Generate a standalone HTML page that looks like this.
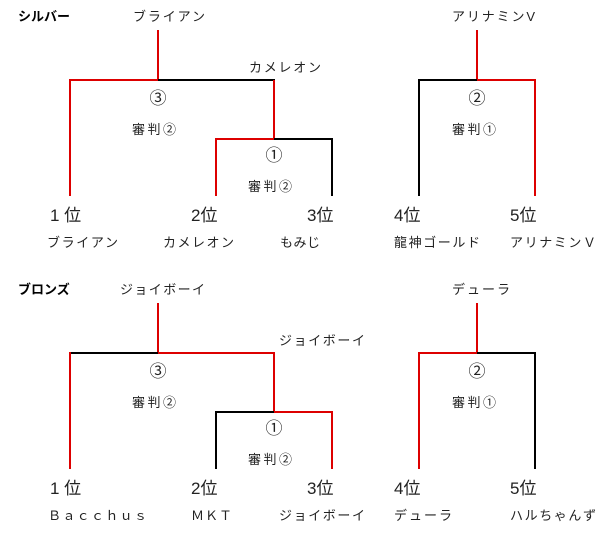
<!DOCTYPE html>
<html><head><meta charset="utf-8"><style>
html,body{margin:0;padding:0;background:#fff;width:616px;height:539px;overflow:hidden}
svg text{font-family:"Liberation Sans","Noto Sans CJK JP",sans-serif;fill:#222}
.s{font-size:13px}.r{font-size:17px}.b{font-size:13px;font-weight:bold;fill:#000}
</style></head><body>
<svg width="616" height="539" viewBox="0 0 616 539" xmlns="http://www.w3.org/2000/svg">
<g stroke-width="2" fill="none">
<!-- silver -->
<line x1="158" y1="30" x2="158" y2="81" stroke="#d00"/>
<line x1="70" y1="80" x2="158" y2="80" stroke="#d00"/>
<line x1="158" y1="80" x2="275" y2="80" stroke="#000"/>
<line x1="70" y1="79" x2="70" y2="196" stroke="#d00"/>
<line x1="274" y1="80" x2="274" y2="140" stroke="#d00"/>
<line x1="216" y1="139" x2="274" y2="139" stroke="#d00"/>
<line x1="274" y1="139" x2="333" y2="139" stroke="#000"/>
<line x1="216" y1="138" x2="216" y2="196" stroke="#d00"/>
<line x1="332" y1="138" x2="332" y2="196" stroke="#000"/>
<line x1="477" y1="30" x2="477" y2="81" stroke="#d00"/>
<line x1="418" y1="80" x2="477" y2="80" stroke="#000"/>
<line x1="477" y1="80" x2="536" y2="80" stroke="#d00"/>
<line x1="419" y1="79" x2="419" y2="196" stroke="#000"/>
<line x1="535" y1="79" x2="535" y2="196" stroke="#d00"/>
<!-- bronze -->
<line x1="158" y1="303" x2="158" y2="354" stroke="#d00"/>
<line x1="70" y1="353" x2="158" y2="353" stroke="#000"/>
<line x1="158" y1="353" x2="275" y2="353" stroke="#d00"/>
<line x1="70" y1="352" x2="70" y2="469" stroke="#d00"/>
<line x1="274" y1="353" x2="274" y2="413" stroke="#d00"/>
<line x1="216" y1="412" x2="274" y2="412" stroke="#000"/>
<line x1="274" y1="412" x2="333" y2="412" stroke="#d00"/>
<line x1="216" y1="411" x2="216" y2="469" stroke="#000"/>
<line x1="332" y1="411" x2="332" y2="469" stroke="#d00"/>
<line x1="477" y1="303" x2="477" y2="354" stroke="#d00"/>
<line x1="418" y1="353" x2="477" y2="353" stroke="#d00"/>
<line x1="477" y1="353" x2="536" y2="353" stroke="#000"/>
<line x1="419" y1="352" x2="419" y2="469" stroke="#d00"/>
<line x1="535" y1="352" x2="535" y2="469" stroke="#000"/>
</g>
<!-- silver text -->
<text class="b" x="18" y="21">シルバー</text>
<text class="s" x="133" y="21" textLength="72">ブライアン</text>
<text class="s" x="249" y="72" textLength="72">カメレオン</text>
<text class="r" x="158" y="104" text-anchor="middle">③</text>
<text class="s" x="132" y="134" textLength="44">審判②</text>
<text class="r" x="274" y="161" text-anchor="middle">①</text>
<text class="s" x="248" y="191" textLength="44">審判②</text>
<text class="r" x="50" y="221">1 位</text>
<text class="r" x="191" y="221">2位</text>
<text class="r" x="307" y="221">3位</text>
<text class="s" x="47" y="247" textLength="71">ブライアン</text>
<text class="s" x="163" y="247" textLength="71">カメレオン</text>
<text class="s" x="280" y="247" textLength="40">もみじ</text>
<text class="s" x="452" y="21" textLength="83">アリナミンV</text>
<text class="r" x="477" y="104" text-anchor="middle">②</text>
<text class="s" x="452" y="134" textLength="44">審判①</text>
<text class="r" x="394" y="221">4位</text>
<text class="r" x="510" y="221">5位</text>
<text class="s" x="394" y="247" textLength="86">龍神ゴールド</text>
<text class="s" x="510" y="247" textLength="86">アリナミンＶ</text>
<!-- bronze text -->
<text class="b" x="18" y="294">ブロンズ</text>
<text class="s" x="120" y="294" textLength="85">ジョイボーイ</text>
<text class="s" x="279" y="345" textLength="86">ジョイボーイ</text>
<text class="r" x="158" y="377" text-anchor="middle">③</text>
<text class="s" x="132" y="407" textLength="44">審判②</text>
<text class="r" x="274" y="434" text-anchor="middle">①</text>
<text class="s" x="248" y="464" textLength="44">審判②</text>
<text class="r" x="50" y="494">1 位</text>
<text class="r" x="191" y="494">2位</text>
<text class="r" x="307" y="494">3位</text>
<text class="s" x="48" y="520" textLength="99">Ｂａｃｃｈｕｓ</text>
<text class="s" x="191" y="520" textLength="41">ＭＫＴ</text>
<text class="s" x="279" y="520" textLength="86">ジョイボーイ</text>
<text class="s" x="452" y="294" textLength="58">デューラ</text>
<text class="r" x="477" y="377" text-anchor="middle">②</text>
<text class="s" x="452" y="407" textLength="44">審判①</text>
<text class="r" x="394" y="494">4位</text>
<text class="r" x="510" y="494">5位</text>
<text class="s" x="394" y="520" textLength="58">デューラ</text>
<text class="s" x="510" y="520" textLength="86">ハルちゃんず</text>
</svg>
</body></html>
